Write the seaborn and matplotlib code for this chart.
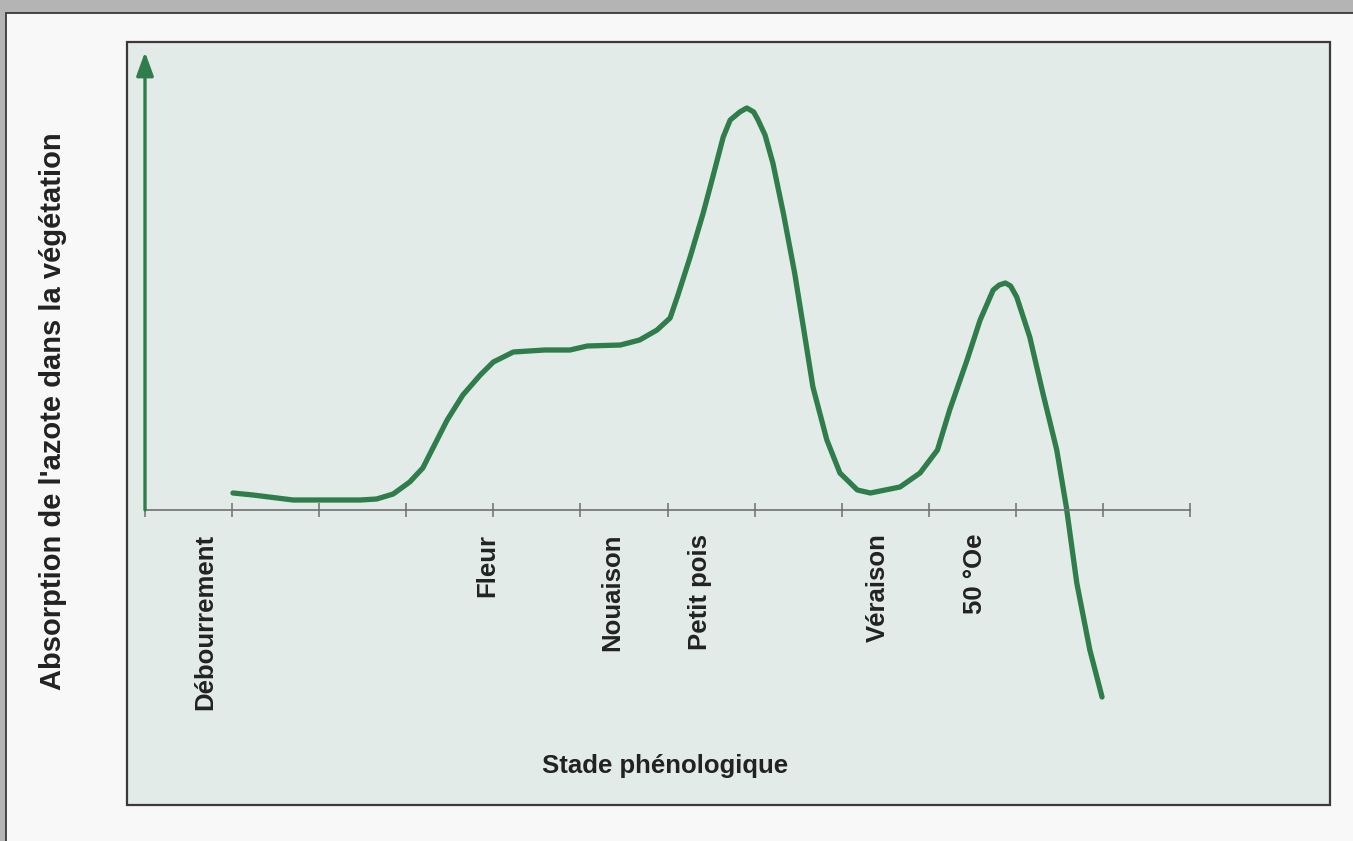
import matplotlib
matplotlib.use("Agg")
import matplotlib.pyplot as plt
from matplotlib.patches import Rectangle
import seaborn as sns

# stage axis: 0..12 tick intervals, nitrogen uptake in arbitrary units (0 = x axis)
stage_t = [1.01, 1.24, 1.70, 2.47, 2.66, 2.85, 3.04, 3.19, 3.47, 3.65, 3.85, 4.00,
           4.23, 4.59, 4.88, 5.08, 5.46, 5.68, 5.88, 6.03, 6.12, 6.26, 6.41, 6.52,
           6.64, 6.72, 6.83, 6.91, 6.99, 7.04, 7.12, 7.21, 7.33, 7.46, 7.56, 7.67, 7.83,
           7.98, 8.18, 8.33, 8.67, 8.90, 9.10, 9.24, 9.44, 9.59, 9.74, 9.81, 9.88, 9.94,
           10.01, 10.16, 10.31, 10.47, 10.58, 10.70, 10.85, 10.99]
absorption = [17, 15, 10, 10, 11, 16, 28, 42, 90, 115, 135, 148,
              158, 160, 160, 164, 165, 170, 180, 192, 215, 253, 297, 333,
              373, 390, 398, 402, 398, 390, 375, 347, 297, 237, 183, 123, 70,
              37, 20, 17, 23, 37, 60, 100, 150, 190, 220, 225, 227, 224,
              213, 173, 117, 60, 3, -73, -140, -187]

stage_labels = ["Débourrement", "Fleur", "Nouaison", "Petit pois", "Véraison", "50 °Oe"]
stage_pos = [0.69, 3.93, 5.37, 6.37, 8.41, 9.53]
n_ticks = 13

green = "#2f7d4b"
text_col = "#222222"

sns.set_theme(style="white")
plt.rcParams["font.family"] = ["Liberation Sans", "DejaVu Sans"]

fig = plt.figure(figsize=(13.53, 8.41), dpi=100)
fig.patch.set_facecolor("#b4b4b4")

# white card + tinted panel
fig.add_artist(Rectangle((6 / 1353, -0.05), 1.2, 0.05 + 828 / 841, transform=fig.transFigure,
                         facecolor="#f7f8f7", edgecolor="#3a3a3a", lw=1.3, zorder=0))
fig.add_artist(Rectangle((127 / 1353, 36 / 841), 1203 / 1353, 763 / 841, transform=fig.transFigure,
                         facecolor="#e2ebe8", edgecolor="#3a3a3a", lw=1.6, zorder=0))

ax = fig.add_axes([145 / 1353, 141 / 841, 1045 / 1353, 648 / 841])
ax.set_facecolor("none")
ax.set_zorder(2)
ax.set_xlim(0, 12)
ax.set_ylim(-190, 458)

sns.lineplot(x=stage_t, y=absorption, ax=ax, color=green, lw=3.8, sort=False,
             estimator=None, clip_on=False)
ax.lines[-1].set_solid_capstyle("round")
ax.lines[-1].set_solid_joinstyle("round")

# y axis as green arrow
ax.annotate("", xy=(0, 458), xytext=(0, 0),
            arrowprops=dict(arrowstyle="-|>,head_width=0.4,head_length=1.1",
                            color=green, lw=2.4, shrinkA=0, shrinkB=0,
                            mutation_scale=13))

for s in ["left", "top", "right"]:
    ax.spines[s].set_visible(False)
ax.spines["bottom"].set_position(("data", 0))
ax.spines["bottom"].set_color("#707070")
ax.spines["bottom"].set_linewidth(1.2)

ax.set_yticks([])
ax.set_xticks(range(n_ticks))
ax.set_xticklabels([])
ax.set_xticks(stage_pos, stage_labels, minor=True)
ax.tick_params(axis="x", which="major", direction="inout", length=10, width=1.1,
               color="#707070", bottom=True)
ax.tick_params(axis="x", which="minor", length=0, pad=17, labelsize=18.5,
               labelcolor=text_col, labelrotation=90)
for lbl in ax.get_xticklabels(minor=True):
    lbl.set_fontweight("bold")

fig.text(53 / 1353, 1 - 411 / 841, "Absorption de l'azote dans la végétation",
         rotation=90, ha="center", va="center", fontsize=21, fontweight="bold", color=text_col)
fig.text(665 / 1353, 1 - 766 / 841, "Stade phénologique",
         ha="center", va="center", fontsize=18.5, fontweight="bold", color=text_col)

fig.savefig("out.png", dpi=100, facecolor=fig.get_facecolor())
